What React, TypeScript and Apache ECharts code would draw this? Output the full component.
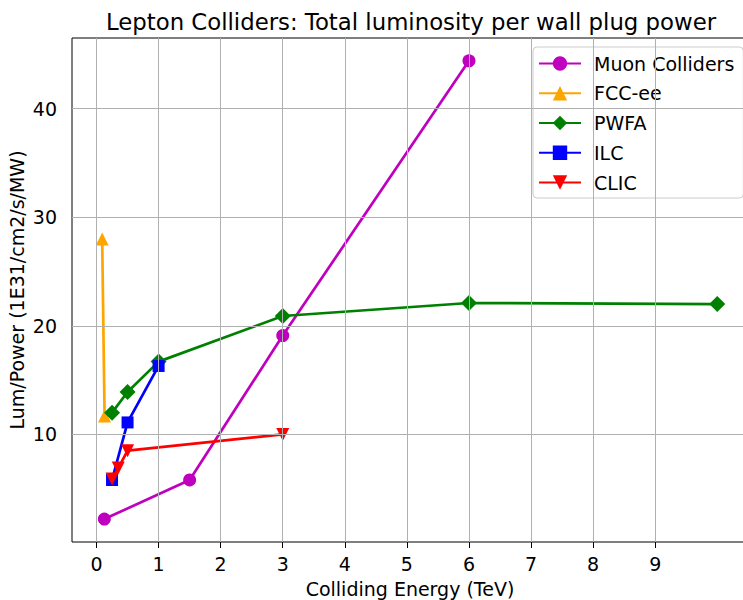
import React, { useEffect, useRef } from "react";
import * as echarts from "echarts";

const muonX = [0.126, 1.5, 3, 6];
const muonY = [2.2, 5.8, 19.1, 44.4];
const fccX = [0.091, 0.13];
const fccY = [28.0, 11.7];
const pwfaX = [0.25, 0.5, 1, 3, 6, 10];
const pwfaY = [12.0, 13.9, 16.7, 20.9, 22.1, 22.0];
const ilcX = [0.25, 0.5, 1];
const ilcY = [5.8, 11.1, 16.3];
const clicX = [0.25, 0.35, 0.5, 3];
const clicY = [5.9, 6.9, 8.5, 10.0];

const xTicks = [0, 1, 2, 3, 4, 5, 6, 7, 8, 9];
const yTicks = [10, 20, 30, 40];

const FONT = "DejaVu Sans";

const zip = (xs: number[], ys: number[]) => xs.map((x, i) => [x, ys[i]]);

export default function App() {
  const ref = useRef<HTMLDivElement>(null);
  useEffect(() => {
    document.body.style.margin = "0";
    const chart = echarts.init(ref.current!, null, { renderer: "svg" });
    const lw = 2.7;
    const mk = (name: string, color: string, xs: number[], ys: number[], symbol: string, size: number, rotate = 0) => ({
      name,
      type: "line",
      data: zip(xs, ys),
      symbol,
      symbolSize: size,
      symbolRotate: rotate,
      showAllSymbol: true,
      z: 3,
      itemStyle: { color, opacity: 1 },
      lineStyle: { color, width: lw },
      emphasis: { disabled: true },
    });
    chart.setOption({
      animation: false,
      title: {
        text: "Lepton Colliders: Total luminosity per wall plug power",
        left: 406,
        textAlign: "center",
        top: 5,
        textStyle: { fontFamily: FONT, fontSize: 22.8, fontWeight: "normal", color: "#000" },
      },
      grid: {
        left: 72,
        top: 38,
        width: 676,
        height: 504,
        show: true,
        borderColor: "#000",
        borderWidth: 1,
        backgroundColor: "#fff",
        containLabel: false,
        outerBoundsMode: "none",
      },
      legend: {
        orient: "vertical",
        left: 533,
        top: 47,
        data: ["Muon Colliders", "FCC-ee", "PWFA", "ILC", "CLIC"],
        itemWidth: 42,
        itemHeight: 18,
        itemGap: 10.75,
        padding: [7, 9, 6, 5],
        backgroundColor: "rgba(255,255,255,0.85)",
        borderColor: "#cccccc",
        borderWidth: 1,
        borderRadius: 4,
        textStyle: { fontFamily: FONT, fontSize: 19, color: "#000", padding: [0, 0, 0, 8] },
      },
      xAxis: {
        type: "value",
        min: -0.395,
        max: 10.495,
        name: "Colliding Energy (TeV)",
        nameLocation: "middle",
        nameGap: 37,
        nameMoveOverlap: false,
        nameTextStyle: { fontFamily: FONT, fontSize: 19, color: "#000" },
        axisLine: { show: false },
        axisTick: { show: true, customValues: xTicks, length: 6, lineStyle: { color: "#000" } },
        axisLabel: { customValues: xTicks, fontFamily: FONT, fontSize: 19, color: "#000", margin: 12 },
        splitLine: { show: false },
      },
      yAxis: {
        type: "value",
        min: 0.09,
        max: 46.5,
        name: "Lum/Power (1E31/cm2/s/MW)",
        nameLocation: "middle",
        nameGap: 45.5,
        nameMoveOverlap: false,
        nameTextStyle: { fontFamily: FONT, fontSize: 19, color: "#000" },
        axisLine: { show: false },
        axisTick: { show: true, customValues: yTicks, length: 6, lineStyle: { color: "#000" } },
        axisLabel: { customValues: yTicks, fontFamily: FONT, fontSize: 19, color: "#000", margin: 15 },
        splitLine: { show: false },
      },
      series: [
        {
          name: "grid",
          type: "line",
          data: [[0, 0]],
          symbol: "none",
          lineStyle: { opacity: 0 },
          z: 1,
          silent: true,
          markLine: {
            silent: true,
            symbol: "none",
            label: { show: false },
            lineStyle: { color: "#b0b0b0", width: 1, type: "solid" },
            emphasis: { disabled: true },
            data: [
              ...xTicks.map((v) => ({ xAxis: v })),
              ...yTicks.map((v) => ({ yAxis: v })),
            ],
          },
        },
        mk("Muon Colliders", "#bf00bf", muonX, muonY, "circle", 13),
        mk("FCC-ee", "#ffa500", fccX, fccY, "triangle", 13),
        mk("PWFA", "#008000", pwfaX, pwfaY, "diamond", 16),
        mk("ILC", "#0000ff", ilcX, ilcY, "rect", 12),
        mk("CLIC", "#ff0000", clicX, clicY, "triangle", 13, 180),
      ],
    });
    return () => chart.dispose();
  }, []);
  return <div ref={ref} style={{ width: 743, height: 600 }} />;
}
